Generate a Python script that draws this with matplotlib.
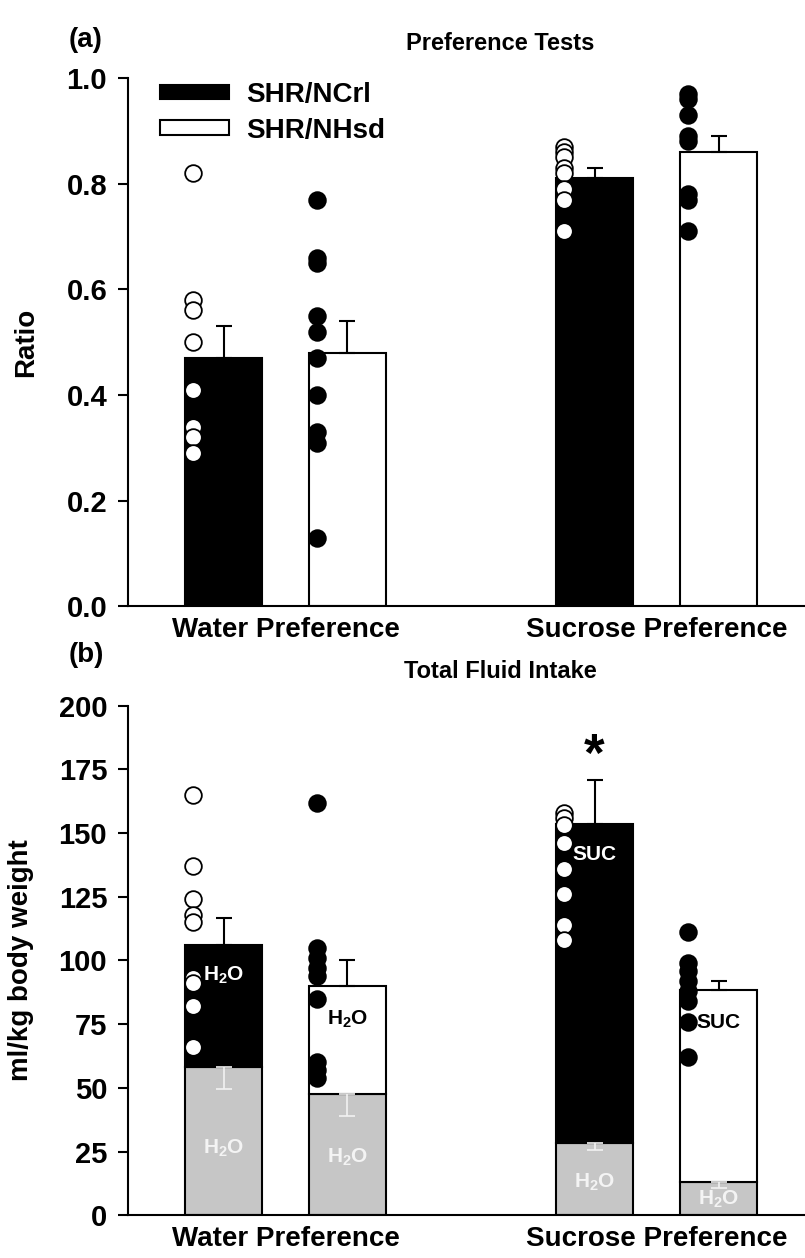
import numpy as np
import matplotlib
matplotlib.use("Agg")
import matplotlib.pyplot as plt
from matplotlib.patches import Patch

plt.rcParams['font.family'] = ['Liberation Sans', 'DejaVu Sans']
plt.rcParams['font.weight'] = 'bold'
plt.rcParams['mathtext.fontset'] = 'custom'
plt.rcParams['mathtext.rm'] = 'Liberation Sans:bold'
plt.rcParams['mathtext.default'] = 'rm'

# categories
groups = ['Water Preference', 'Sucrose Preference']
strains = ['SHR/NCrl', 'SHR/NHsd']

# (a) preference ratio, mean / sem
ratio_ncrl = [0.47, 0.81]
ratio_ncrl_sem = [0.06, 0.02]
ratio_nhsd = [0.48, 0.86]
ratio_nhsd_sem = [0.06, 0.03]

# individual animals
ratio_pts_ncrl = [
    [0.82, 0.58, 0.56, 0.50, 0.41, 0.34, 0.32, 0.29],
    [0.87, 0.86, 0.85, 0.83, 0.82, 0.79, 0.77, 0.71],
]
ratio_pts_nhsd = [
    [0.77, 0.66, 0.65, 0.55, 0.52, 0.47, 0.40, 0.33, 0.31, 0.13],
    [0.97, 0.96, 0.93, 0.89, 0.88, 0.78, 0.77, 0.71],
]

# (b) total fluid intake (ml/kg), water part and total
h2o_ncrl = [58, 28.5]
h2o_ncrl_sem = [8.5, 3]
h2o_nhsd = [47.5, 13]
h2o_nhsd_sem = [8.5, 2.5]
total_ncrl = [106, 153.5]
total_ncrl_sem = [10.5, 17.5]
total_nhsd = [90, 88.5]
total_nhsd_sem = [10, 3.5]
top_labels = ['H$_2$O', 'SUC']

intake_pts_ncrl = [
    [165, 137, 124, 118, 115, 93, 91, 82, 66],
    [158, 156, 153, 146, 136, 126, 114, 108],
]
intake_pts_nhsd = [
    [162, 105, 101, 97, 94, 85, 60, 57, 54],
    [111, 99, 96, 92, 88, 84, 76, 62],
]

x = np.arange(len(groups))
off = 0.167
w = 0.2075
pt_shift = -0.083
gray = '#c6c6c6'

fig = plt.figure(figsize=(8.05, 12.58), dpi=100)
ax_a = fig.add_axes([0.159, 0.518, 0.841, 0.42])
ax_b = fig.add_axes([0.159, 0.034, 0.841, 0.405])


def style_axis(ax):
    ax.spines['top'].set_visible(False)
    ax.spines['right'].set_visible(False)
    ax.spines['left'].set_linewidth(1.5)
    ax.spines['bottom'].set_linewidth(1.5)
    ax.set_xlim(-0.4245, 1.40)
    ax.set_xticks(x)
    ax.set_xticklabels(groups, fontsize=20, fontweight='bold')
    ax.tick_params(axis='x', length=0, pad=8)
    ax.tick_params(axis='y', direction='out', length=7, width=1.5, labelsize=21, pad=8)


def points(ax, xs, vals, filled):
    for xi, v in zip(xs, vals):
        ax.plot([xi + pt_shift] * len(v), v, 'o', ms=12, mew=1.3,
                mec='black', mfc='black' if filled else 'white',
                zorder=5, clip_on=False)


# ---- (a) ----
ax = ax_a
ax.bar(x - off, ratio_ncrl, w, color='black', edgecolor='black', lw=1.5, zorder=2)
ax.bar(x + off, ratio_nhsd, w, color='white', edgecolor='black', lw=1.5, zorder=2)
ax.errorbar(x - off, ratio_ncrl, yerr=[np.zeros(2), ratio_ncrl_sem], fmt='none',
            ecolor='black', elinewidth=1.5, capsize=5.5, capthick=1.5, zorder=3)
ax.errorbar(x + off, ratio_nhsd, yerr=[np.zeros(2), ratio_nhsd_sem], fmt='none',
            ecolor='black', elinewidth=1.5, capsize=5.5, capthick=1.5, zorder=3)
points(ax, x - off, ratio_pts_ncrl, False)
points(ax, x + off, ratio_pts_nhsd, True)
ax.set_ylim(0, 1.0)
ax.set_yticks([0, 0.2, 0.4, 0.6, 0.8, 1.0])
ax.set_yticklabels(['0.0', '0.2', '0.4', '0.6', '0.8', '1.0'])
style_axis(ax)
ax.set_ylabel('Ratio', fontsize=20, fontweight='bold', labelpad=20)
ax.set_title('Preference Tests', fontsize=17, fontweight='bold', pad=20, x=0.55)
handles = [Patch(facecolor='black', edgecolor='black', lw=1.5),
           Patch(facecolor='white', edgecolor='black', lw=1.5)]
ax.legend(handles, strains, loc='upper left', bbox_to_anchor=(0.01, 1.04),
          frameon=False, handlelength=2.5, handleheight=0.45,
          handletextpad=0.6, labelspacing=0.35, prop={'weight': 'bold', 'size': 20})

# ---- (b) ----
ax = ax_b
ax.bar(x - off, h2o_ncrl, w, color=gray, edgecolor='black', lw=1.5, zorder=2)
ax.bar(x - off, np.subtract(total_ncrl, h2o_ncrl), w, bottom=h2o_ncrl,
       color='black', edgecolor='black', lw=1.5, zorder=2)
ax.bar(x + off, h2o_nhsd, w, color=gray, edgecolor='black', lw=1.5, zorder=2)
ax.bar(x + off, np.subtract(total_nhsd, h2o_nhsd), w, bottom=h2o_nhsd,
       color='white', edgecolor='black', lw=1.5, zorder=2)
ax.errorbar(x - off, total_ncrl, yerr=[np.zeros(2), total_ncrl_sem], fmt='none',
            ecolor='black', elinewidth=1.5, capsize=5.5, capthick=1.5, zorder=3)
ax.errorbar(x + off, total_nhsd, yerr=[np.zeros(2), total_nhsd_sem], fmt='none',
            ecolor='black', elinewidth=1.5, capsize=5.5, capthick=1.5, zorder=3)
ax.errorbar(x - off, h2o_ncrl, yerr=[h2o_ncrl_sem, np.zeros(2)], fmt='none',
            ecolor='#f2f2f2', elinewidth=1.2, capsize=5.5, capthick=1.2, zorder=3)
ax.errorbar(x + off, h2o_nhsd, yerr=[h2o_nhsd_sem, np.zeros(2)], fmt='none',
            ecolor='#f2f2f2', elinewidth=1.2, capsize=5.5, capthick=1.2, zorder=3)
points(ax, x - off, intake_pts_ncrl, False)
points(ax, x + off, intake_pts_nhsd, True)

for i in range(len(groups)):
    ax.text(x[i] - off, total_ncrl[i] - 12, top_labels[i], color='white',
            ha='center', va='center', fontsize=15, zorder=4)
    ax.text(x[i] + off, total_nhsd[i] - 13, top_labels[i], color='black',
            ha='center', va='center', fontsize=15, zorder=4)
    ax.text(x[i] - off, h2o_ncrl[i] * 0.45, 'H$_2$O', color='#f4f4f4',
            ha='center', va='center', fontsize=15, zorder=4)
    ax.text(x[i] + off, h2o_nhsd[i] * 0.48, 'H$_2$O', color='#f4f4f4',
            ha='center', va='center', fontsize=15, zorder=4)

ax.text(x[1] - off, total_ncrl[1] + total_ncrl_sem[1] + 9, '*', ha='center',
        va='center', fontsize=38, fontweight='bold')

ax.set_ylim(0, 200)
ax.set_yticks(np.arange(0, 201, 25))
style_axis(ax)
ax.set_ylabel('ml/kg body weight', fontsize=20, fontweight='bold', labelpad=18)
ax.set_title('Total Fluid Intake', fontsize=17, fontweight='bold', pad=20, x=0.55)

fig.text(0.085, 1 - 40 / 1258, '(a)', fontsize=20, fontweight='bold', va='center')
fig.text(0.085, 1 - 655 / 1258, '(b)', fontsize=20, fontweight='bold', va='center')

fig.savefig('out.png', dpi=100, facecolor='white')
